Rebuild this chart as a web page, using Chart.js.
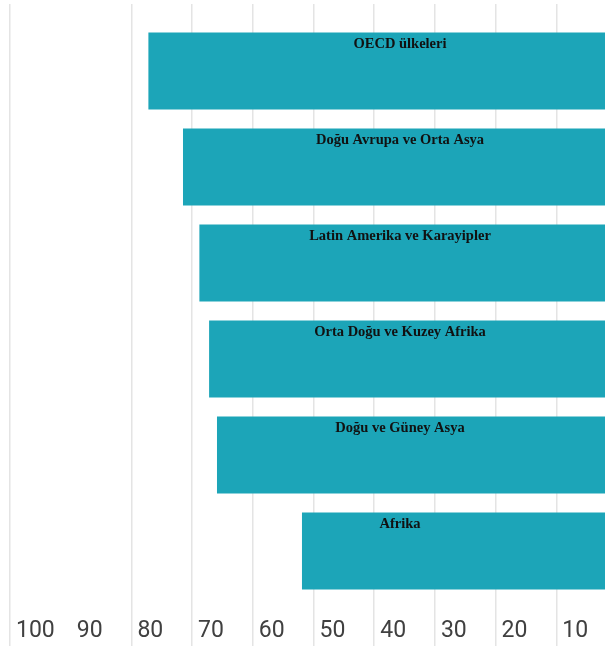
<!DOCTYPE html>
<html>
<head>
<meta charset="utf-8">
<script src="https://cdn.jsdelivr.net/npm/chart.js@4.4.1/dist/chart.umd.min.js"></script>
<style>
  html, body { margin: 0; padding: 0; background: #fff; overflow: hidden; }
  #wrap { width: 630px; height: 646px; }
</style>
</head>
<body>
<div id="wrap"><canvas id="c" width="630" height="646" style="width:630px;height:646px"></canvas></div>
<script>
const categories = [
  'OECD ülkeleri',
  'Doğu Avrupa ve Orta Asya',
  'Latin Amerika ve Karayipler',
  'Orta Doğu ve Kuzey Afrika',
  'Doğu ve Güney Asya',
  'Afrika'
];
const values = [77.2, 71.5, 68.8, 67.2, 65.9, 51.9];
const tickValues = [100, 90, 80, 70, 60, 50, 40, 30, 20, 10, 0];
const hiddenGridValues = [90];

const barColor = '#1ca5b8';
const gridColor = '#e4e4e4';

const barLabelsPlugin = {
  id: 'barLabels',
  afterDatasetsDraw(chart) {
    const ctx = chart.ctx;
    const meta = chart.getDatasetMeta(0);
    ctx.save();
    ctx.font = 'bold 14.5px "Liberation Serif", "Times New Roman", serif';
    ctx.fillStyle = '#111';
    ctx.textAlign = 'center';
    ctx.textBaseline = 'alphabetic';
    meta.data.forEach((el, i) => {
      const top = Math.min(el.y - el.height / 2, el.y + el.height / 2);
      ctx.fillText(chart.data.labels[i], 400, top + 15.5);
    });
    ctx.restore();
  }
};

const gridColorFn = (c) => (c.tick && hiddenGridValues.includes(c.tick.value)) ? 'rgba(0,0,0,0)' : gridColor;

new Chart(document.getElementById('c'), {
  type: 'bar',
  data: {
    labels: categories,
    datasets: [{
      data: values,
      backgroundColor: barColor,
      borderWidth: 0,
      barPercentage: 0.8,
      categoryPercentage: 1.0
    }]
  },
  options: {
    indexAxis: 'y',
    responsive: false,
    animation: false,
    layout: { padding: { left: 10, right: 13, top: 4, bottom: 0 } },
    plugins: { legend: { display: false }, tooltip: { enabled: false } },
    scales: {
      y: {
        display: false,
        offset: true,
        grid: { display: false }
      },
      x: {
        type: 'linear',
        position: 'bottom',
        reverse: true,
        min: 0,
        max: 100,
        afterBuildTicks: (axis) => { axis.ticks = tickValues.map(v => ({ value: v })); },
        border: { display: false },
        grid: { color: gridColorFn, lineWidth: 1.5, tickLength: 139 },
        ticks: {
          mirror: true,
          align: 'start',
          labelOffset: 6,
          padding: -46,
          color: '#404040',
          font: { family: 'Roboto', size: 23 },
          callback: (v) => v === 0 ? '' : String(v)
        }
      },
      x2: {
        type: 'linear',
        position: 'top',
        reverse: true,
        min: 0,
        max: 100,
        afterBuildTicks: (axis) => { axis.ticks = tickValues.map(v => ({ value: v })); },
        border: { display: false },
        grid: { color: gridColorFn, lineWidth: 1.5, tickLength: 19, drawOnChartArea: false },
        ticks: { display: false }
      }
    }
  },
  plugins: [barLabelsPlugin]
});
</script>
</body>
</html>
